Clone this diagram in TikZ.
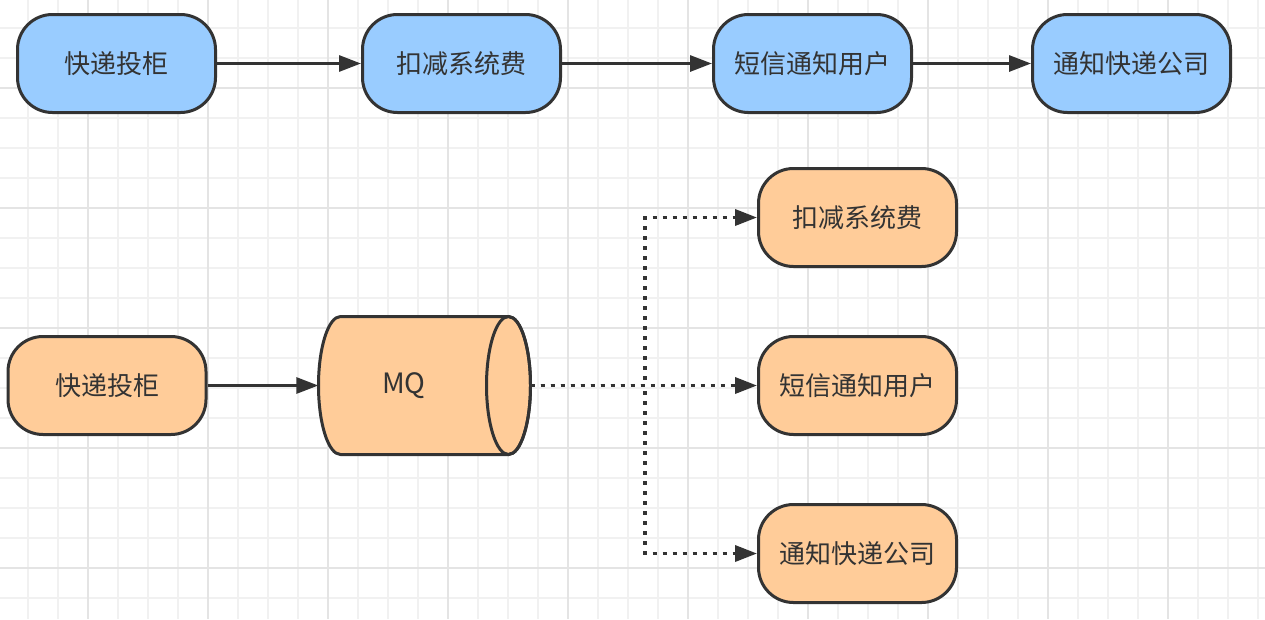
\documentclass[tikz,border=0pt]{standalone}
\usepackage{fontspec}
\setmainfont{Noto Sans CJK SC}
\usetikzlibrary{arrows.meta}
\definecolor{ln}{HTML}{333333}
\definecolor{blu}{HTML}{99CCFF}
\definecolor{org}{HTML}{FFCC99}
\definecolor{gmin}{HTML}{F1F1F1}
\definecolor{gmaj}{HTML}{E4E4E4}
\begin{document}
\begin{tikzpicture}[x=1pt,y=1pt,
  box/.style={draw=ln, line width=3pt, rounded corners=35pt, minimum width=198pt, minimum height=98pt, inner sep=0pt, text=ln, font=\fontsize{26}{30}\selectfont},
  bbox/.style={box, fill=blu},
  obox/.style={box, fill=org},
  lbl/.style={text=ln, font=\fontsize{28}{32}\selectfont, inner sep=0pt},
  conn/.style={draw=ln, line width=3pt, -{Triangle[length=22pt,width=16pt]}},
  dconn/.style={conn, line width=3.5pt, dash pattern=on 4pt off 6pt},
  gminor/.style={draw=gmin, line width=1.5pt},
  gmajor/.style={draw=gmaj, line width=1.5pt}]
\useasboundingbox (0,-619) rectangle (1265,0);
\fill[white] (0,-619) rectangle (1265,0);
% grid
\foreach \x in {28,58,...,1258} \draw[gminor] (\x,0) -- (\x,-619);
\foreach \y in {28,58,...,598} \draw[gminor] (0,-\y) -- (1265,-\y);
\foreach \x in {88,208,...,1168} \draw[gmajor] (\x,0) -- (\x,-619);
\foreach \y in {88,208,...,568} \draw[gmajor] (0,-\y) -- (1265,-\y);
% top row
\node[bbox] (t1) at (116.5,-63.5) {快递投柜};
\node[bbox] (t2) at (461.5,-63.5) {扣减系统费};
\node[bbox] (t3) at (812.5,-63.5) {短信通知用户};
\node[bbox] (t4) at (1131.5,-63.5) {通知快递公司};
\draw[conn] (t1) -- (t2);
\draw[conn] (t2) -- (t3);
\draw[conn] (t3) -- (t4);
% bottom
\node[obox] (b1) at (107,-385.5) {快递投柜};
\node[obox] (o1) at (857.5,-217.5) {扣减系统费};
\node[obox] (o2) at (857.5,-385.5) {短信通知用户};
\node[obox] (o3) at (857.5,-553.5) {通知快递公司};
% MQ cylinder
\node[minimum width=212pt, minimum height=138pt, inner sep=0pt] (mq) at (424.5,-385.5) {};
\filldraw[fill=org, draw=ln, line width=3pt, line join=round]
  (340.5,-316.5) -- (508.5,-316.5)
  arc[start angle=90, end angle=-90, x radius=22pt, y radius=69pt]
  -- (340.5,-454.5)
  arc[start angle=270, end angle=90, x radius=22pt, y radius=69pt] -- cycle;
\draw[draw=ln, line width=3pt] (508.5,-385.5) ellipse[x radius=22pt, y radius=69pt];
\node[lbl] (mqt) at (404,-386) {MQ};
\draw[conn] (b1) -- (mq);
\coordinate (j) at (645,-385.5);
\draw[dconn] (mq.east) -- (j) |- (o1);
\draw[dconn] (mq.east) -- (o2);
\draw[dconn] (mq.east) -- (j) |- (o3);
\end{tikzpicture}
\end{document}
